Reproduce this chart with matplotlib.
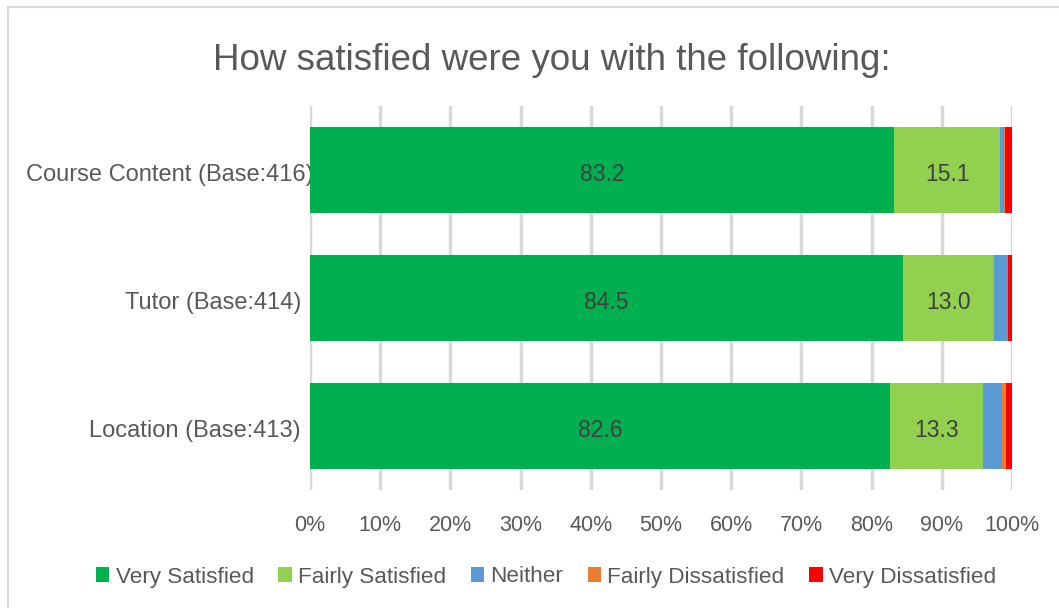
import matplotlib
matplotlib.use('Agg')
import matplotlib.pyplot as plt
from matplotlib.patches import Rectangle
from matplotlib.transforms import ScaledTranslation
import numpy as np

plt.rcParams['font.family'] = ['Liberation Sans', 'DejaVu Sans']

# data (percentages)
categories = ['Course Content (Base:416)', 'Tutor (Base:414)', 'Location (Base:413)']
series_names = ['Very Satisfied', 'Fairly Satisfied', 'Neither', 'Fairly Dissatisfied', 'Very Dissatisfied']
very_satisfied = [83.2, 84.5, 82.6]
fairly_satisfied = [15.1, 13.0, 13.3]
neither = [0.5, 1.9, 2.7]
fairly_dissatisfied = [0.2, 0.0, 0.6]
very_dissatisfied = [1.0, 0.6, 0.8]
colors = ['#00B050', '#92D050', '#5B9BD5', '#ED7D31', '#FF0000']

values = [very_satisfied, fairly_satisfied, neither, fairly_dissatisfied, very_dissatisfied]

fig = plt.figure(figsize=(10.59, 6.08), dpi=100)
ax = fig.add_axes([310 / 1059, 1 - 490 / 608, 702 / 1059, 384 / 608])

# chart border
fig.patches.append(Rectangle((8 / 1059, -0.05), 1.1, 1 - 7 / 608 + 0.05,
                             transform=fig.transFigure, fill=False,
                             edgecolor='#d9d9d9', linewidth=1.5))

y = np.arange(len(categories))
left = np.zeros(len(categories))
for i, (name, vals) in enumerate(zip(series_names, values)):
    bars = ax.barh(y, vals, left=left, height=0.67, color=colors[i], label=name, zorder=3)
    if i < 2:
        anns = ax.bar_label(bars, labels=['%.1f' % v for v in vals], label_type='center',
                            color='#404040', fontsize=16.5)
        for a in anns:
            a.xyann = (0, -3)
    left += np.array(vals)

ax.set_xlim(0, 100)
ax.set_ylim(2.5, -0.5)
ax.set_yticks(y)
ax.set_yticklabels(categories, fontsize=17, color='#595959')
ax.set_xticks(np.arange(0, 101, 10))
ax.set_xticklabels(['%d%%' % t for t in range(0, 101, 10)], fontsize=15.5, color='#595959')
ax.tick_params(axis='both', length=0)
ax.tick_params(axis='y', pad=6.5)
ax.tick_params(axis='x', pad=18)
ax.grid(axis='x', color='#d9d9d9', linewidth=2.5, zorder=0)
for s in ax.spines.values():
    s.set_visible(False)

# labels sit a little low; the long one runs past the axis like the original
for k, lab in enumerate(ax.get_yticklabels()):
    dx = 13 / 100 if k == 0 else 0
    lab.set_transform(lab.get_transform() + ScaledTranslation(dx, -3 / 100, fig.dpi_scale_trans))

fig.text(552 / 1059, 1 - 61 / 608, 'How satisfied were you with the following:',
         ha='center', va='center', fontsize=26.5, color='#595959')

fig.legend(loc='center', bbox_to_anchor=(546 / 1059, 1 - 577 / 608), ncol=5, frameon=False,
           fontsize=16.2, labelcolor='#595959', handlelength=0.6, handleheight=0.6,
           handletextpad=0.27, columnspacing=1.1)

fig.savefig('out.png', dpi=100)
